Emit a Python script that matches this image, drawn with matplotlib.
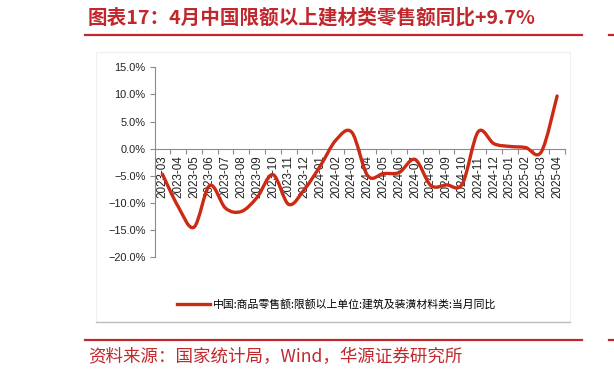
import matplotlib
matplotlib.use('Agg')
import matplotlib.pyplot as plt
from matplotlib.path import Path
from matplotlib.patches import PathPatch, Rectangle
from matplotlib.lines import Line2D
import numpy as np

months = ['2023-03', '2023-04', '2023-05', '2023-06', '2023-07', '2023-08',
          '2023-09', '2023-10', '2023-11', '2023-12', '2024-01', '2024-02',
          '2024-03', '2024-04', '2024-05', '2024-06', '2024-07', '2024-08',
          '2024-09', '2024-10', '2024-11', '2024-12', '2025-01', '2025-02',
          '2025-03', '2025-04']
yoy = [-4.7, -10.7, -14.5, -6.8, -11.0, -11.6, -9.0, -4.8, -10.3, -7.5,
       -3.2, 1.6, 3.0, -5.0, -4.6, -4.4, -2.0, -6.8, -6.7, -6.5,
       3.1, 0.9, 0.4, 0.2, -0.6, 9.7]
yticks = [-20, -15, -10, -5, 0, 5, 10, 15]

title = '图表17：4月中国限额以上建材类零售额同比+9.7%'
legend_label = '中国:商品零售额:限额以上单位:建筑及装潢材料类:当月同比'
source = '资料来源：国家统计局，Wind，华源证券研究所'

RED = '#c0282d'
LINE = '#cc2a14'
CJK = ['Noto Sans CJK SC', 'DejaVu Sans']
plt.rcParams['font.family'] = ['Liberation Sans', 'Noto Sans CJK SC', 'DejaVu Sans']

W, H = 614, 377
fig = plt.figure(figsize=(W / 100, H / 100), dpi=100)


def fx(px):
    return px / W


def fy(py):
    return 1 - py / H


# panel behind chart
fig.patches.append(Rectangle((fx(96), fy(321.5)), fx(570) - fx(96), fy(51.7) - fy(321.5),
                             transform=fig.transFigure, facecolor='white',
                             edgecolor='#f0f0f0', lw=0.8, zorder=-2))
fig.add_artist(Line2D([fx(96), fx(570)], [fy(321.5), fy(321.5)], color='#bdbdbd', lw=1.0))

# title, rules, source
fig.text(fx(88), fy(18), title, family=CJK, weight='bold', fontsize=14.1,
         color=RED, va='center', ha='left')
for yy in (34.5, 340):
    fig.add_artist(Line2D([fx(85), fx(582)], [fy(yy), fy(yy)], color=RED, lw=1.6))
    fig.add_artist(Line2D([fx(609), fx(614)], [fy(yy), fy(yy)], color=RED, lw=1.6))
fig.text(fx(88), fy(357), source, family=CJK, fontsize=12.6, color=RED,
         va='center', ha='left')

ax = fig.add_axes([fx(154.5), fy(257), fx(565) - fx(154.5), fy(67.3) - fy(257)])
ax.set_zorder(2)
n = len(yoy)
x = np.arange(n)
y = np.array(yoy)

# smoothed line through the points (cubic bezier segments)
verts = [(x[0], y[0])]
codes = [Path.MOVETO]
for i in range(n - 1):
    x0, y0 = (x[i - 1], y[i - 1]) if i > 0 else (x[i], y[i])
    x3, y3 = (x[i + 2], y[i + 2]) if i + 2 < n else (x[i + 1], y[i + 1])
    c1 = (x[i] + (x[i + 1] - x0) / 6, y[i] + (y[i + 1] - y0) / 6)
    c2 = (x[i + 1] - (x3 - x[i]) / 6, y[i + 1] - (y3 - y[i]) / 6)
    verts += [c1, c2, (x[i + 1], y[i + 1])]
    codes += [Path.CURVE4] * 3
ax.add_patch(PathPatch(Path(verts, codes), fill=False, edgecolor=LINE, lw=2.4,
                       capstyle='round', joinstyle='round', zorder=3))

ax.set_xlim(-0.5, n - 0.5)
ax.set_ylim(-20, 15)
ax.patch.set_alpha(0)

for s in ('top', 'right'):
    ax.spines[s].set_visible(False)
ax.spines['bottom'].set_position(('data', 0))
ax.spines['bottom'].set_color('#8c8c8c')
ax.spines['left'].set_color('#8c8c8c')

ax.set_yticks(yticks)
ax.set_yticklabels([f'{v:.1f}%'.replace('-', '\u2212') for v in yticks])
ax.tick_params(axis='y', length=3.5, color='#8c8c8c', labelsize=7.9, pad=3,
               labelcolor='#222222')

ax.set_xticks(np.arange(0.5, n, 1))
ax.set_xticklabels([])
ax.set_xticks(x, minor=True)
ax.set_xticklabels(months, minor=True, rotation=90, va='top')
ax.tick_params(axis='x', which='major', length=3.5, color='#8c8c8c', direction='out')
ax.tick_params(axis='x', which='minor', length=0, pad=5, labelsize=8.4,
               labelcolor='#222222')

fig.legend(handles=[Line2D([], [], color=LINE, lw=2.4)], labels=[legend_label],
           loc='center', bbox_to_anchor=(fx(337), fy(304)), frameon=False,
           prop={'family': CJK, 'size': 7.8}, handlelength=3.0, handletextpad=0.3)

fig.savefig('out.png', dpi=100)
